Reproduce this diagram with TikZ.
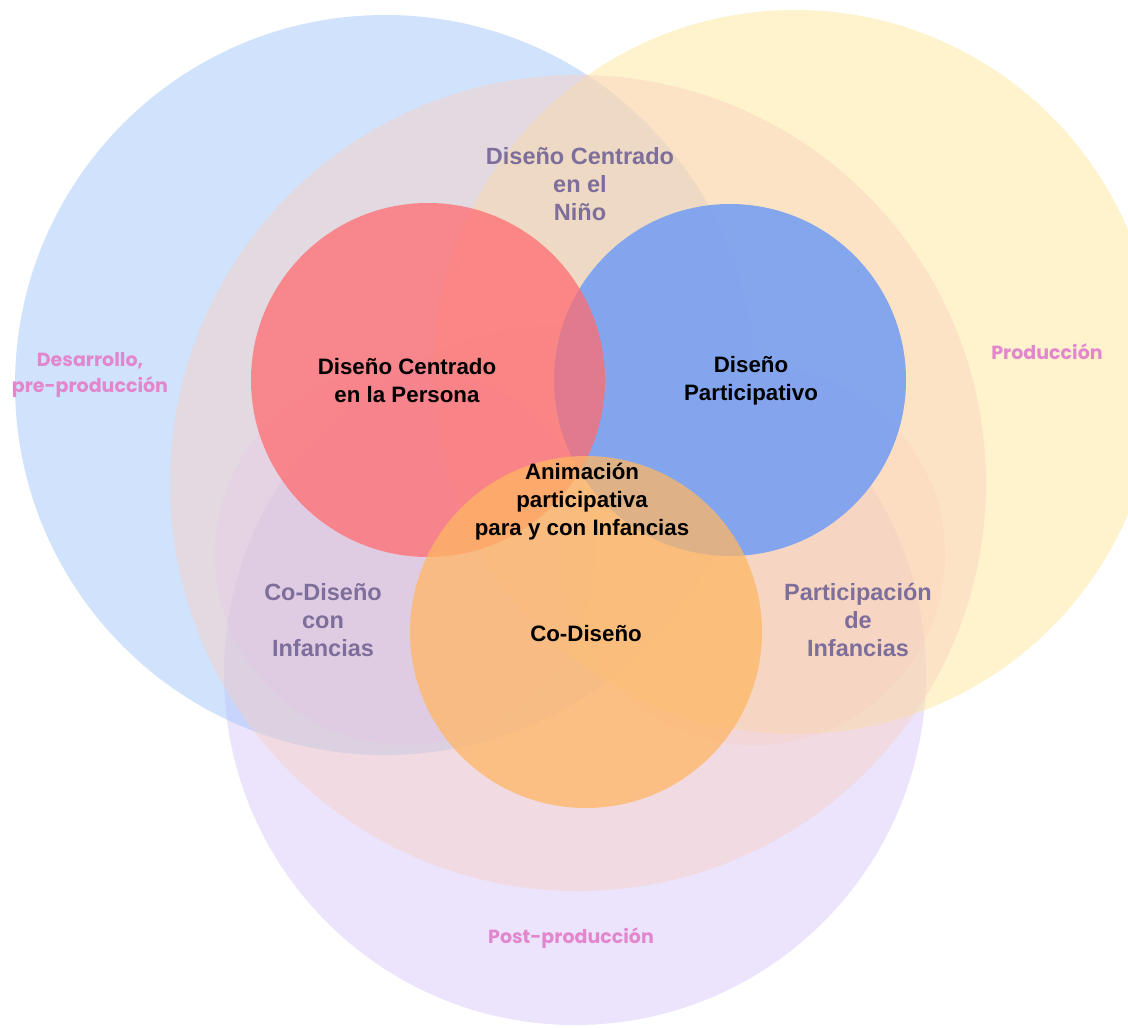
\documentclass[tikz,border=0pt]{standalone}
\usepackage{fontspec}
\setmainfont{Liberation Sans}
\newfontfamily\etapafont{Poppins}
\usetikzlibrary{positioning}

\definecolor{etapaazul}{RGB}{160,195,250}
\definecolor{etapaamarillo}{RGB}{253,230,150}
\definecolor{etapalila}{RGB}{215,200,250}
\definecolor{ninobeige}{RGB}{250,205,190}
\definecolor{codisrosa}{RGB}{240,190,230}
\definecolor{partmelon}{RGB}{252,205,185}
\definecolor{personarojo}{RGB}{255,108,112}
\definecolor{partazul}{RGB}{120,160,242}
\definecolor{codisnaranja}{RGB}{255,182,100}
\definecolor{textolila}{RGB}{125,110,155}
\definecolor{textorosa}{RGB}{226,135,205}

\tikzset{
    disco/.style={circle, inner sep=0pt, draw=none},
    etapa/.style={disco, fill opacity=0.48},
    zona/.style={disco, fill opacity=0.42},
    enfoque/.style={disco, fill opacity=0.75},
    titulo/.style={align=center, font=\fontsize{22.3}{28}\selectfont\bfseries, text=black},
    subtitulo/.style={align=center, font=\fontsize{23.5}{28}\selectfont\bfseries, text=textolila},
    etapatxt/.style={align=center, font=\etapafont\fontsize{19}{26}\selectfont\bfseries, text=textorosa}
}

\begin{document}
\begin{tikzpicture}[x=1pt, y=-1pt]
    \useasboundingbox (0,0) rectangle (1128,1028);
    \clip (0,0) rectangle (1128,1028);
    \fill[white] (0,0) rectangle (1128,1028);

    % etapas
    \node[etapa, fill=etapalila, minimum size=702pt] (post) at (575,674) {};
    \node[etapa, fill=etapaazul, minimum size=740pt] (desarrollo) at (385,385) {};
    \node[etapa, fill=etapaamarillo, minimum size=724pt] (produccion) at (795,372) {};

    % diseno centrado en el nino
    \node[zona, fill=ninobeige, minimum size=816pt] (nino) at (578,483) {};
    \node[zona, fill=codisrosa, fill opacity=0.24, minimum size=380pt] (codisinf) at (405,555) {};
    \node[zona, fill=partmelon, fill opacity=0.24, minimum size=380pt] (partinf) at (755,555) {};

    % enfoques
    \node[enfoque, fill=partazul, fill opacity=0.9, minimum size=352pt] (participativo) at (730,380) {};
    \node[enfoque, fill=personarojo, fill opacity=0.75, minimum size=354pt] (persona) at (428,380) {};
    \node[enfoque, fill=codisnaranja, minimum size=352pt] (codiseno) at (586,632) {};

    \node[titulo] (personatxt) at ([xshift=-21pt, yshift=-1pt]persona.center) {Diseño Centrado\\en la Persona};
    \node[titulo] (participativotxt) at ([xshift=21pt, yshift=-1pt]participativo.center) {Diseño\\Participativo};
    \node[titulo] (codisenotxt) at ([yshift=-2pt]codiseno.center) {Co-Diseño};
    \node[titulo] (animacion) at (582,502) {Animación\\participativa\\para y con Infancias};

    \node[subtitulo] (ninotxt) at (580,184) {Diseño Centrado\\en el\\Niño};
    \node[subtitulo] (codisinftxt) at (323,620) {Co-Diseño\\con\\Infancias};
    \node[subtitulo] (partinftxt) at (858,620) {Participación\\de\\Infancias};

    \node[etapatxt] (desarrollotxt) at (90,375) {Desarrollo,\\pre-producción};
    \node[etapatxt] (producciontxt) at (1047,352) {Producción};
    \node[etapatxt] (posttxt) at (571,938) {Post-producción};
\end{tikzpicture}
\end{document}
